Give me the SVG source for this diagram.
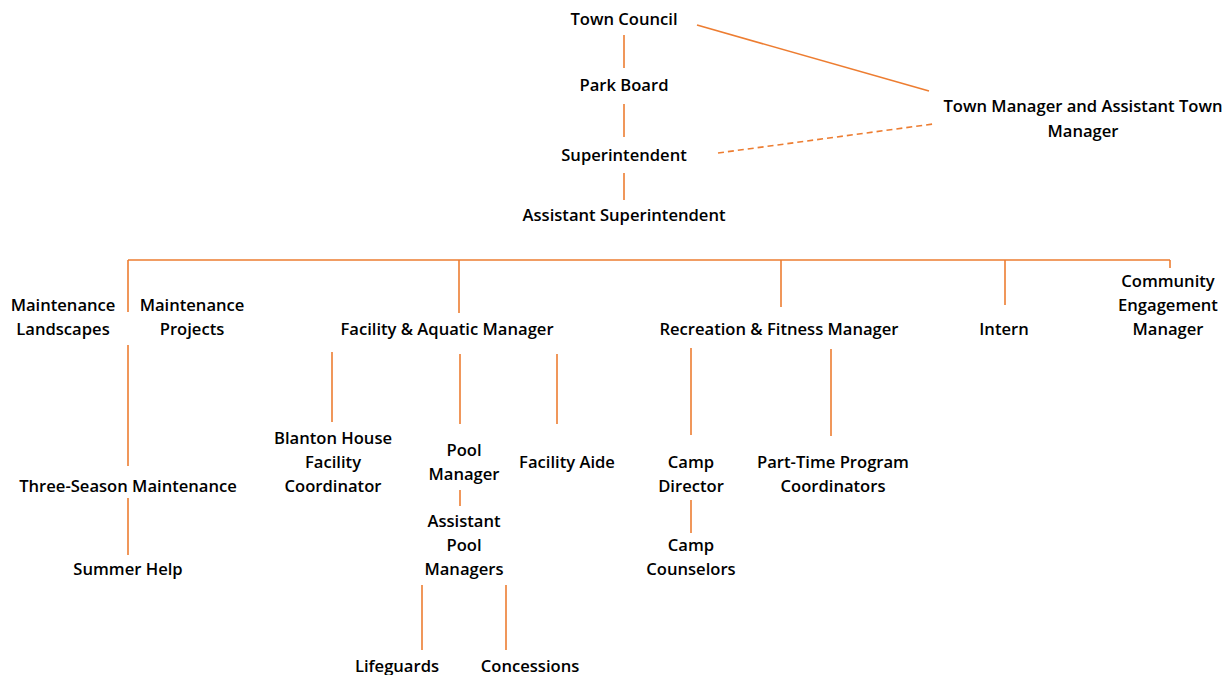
<svg xmlns="http://www.w3.org/2000/svg" width="1232" height="675" viewBox="0 0 1232 675">
<style>
text{font-family:"Open Sans","Noto Sans","Liberation Sans",sans-serif;font-size:16.6px;font-weight:600;fill:#000;text-anchor:middle}
.c line{stroke:#ED7D31;stroke-width:1.6;fill:none}
.c .d{stroke-dasharray:6 4}
</style>
<rect width="1232" height="675" fill="#fff"/>
<g id="connectors" class="c">
<line x1="624" y1="35" x2="624" y2="68"/>
<line x1="624" y1="104" x2="624" y2="137"/>
<line x1="624" y1="173" x2="624" y2="200"/>
<line x1="697" y1="25" x2="929" y2="91"/>
<line class="d" x1="718" y1="153" x2="933" y2="124"/>
<line x1="128" y1="260" x2="1170" y2="260"/>
<line x1="128" y1="260" x2="128" y2="312"/>
<line x1="128" y1="345" x2="128" y2="466"/>
<line x1="459" y1="260" x2="459" y2="313"/>
<line x1="781" y1="260" x2="781" y2="307"/>
<line x1="1005" y1="260" x2="1005" y2="305"/>
<line x1="1170" y1="260" x2="1170" y2="268"/>
<line x1="332" y1="352" x2="332" y2="422"/>
<line x1="460" y1="354" x2="460" y2="424"/>
<line x1="557" y1="354" x2="557" y2="424"/>
<line x1="460" y1="490" x2="460" y2="506"/>
<line x1="422" y1="585" x2="422" y2="650"/>
<line x1="506" y1="585" x2="506" y2="650"/>
<line x1="691" y1="348" x2="691" y2="435"/>
<line x1="831" y1="349" x2="831" y2="436"/>
<line x1="691" y1="500" x2="691" y2="533"/>
<line x1="128" y1="498" x2="128" y2="555"/>
</g>
<g id="town-council"><text x="624" y="25">Town Council</text></g>
<g id="park-board"><text x="624" y="91">Park Board</text></g>
<g id="superintendent"><text x="624" y="161">Superintendent</text></g>
<g id="assistant-superintendent"><text x="624" y="221">Assistant Superintendent</text></g>
<g id="town-manager"><text x="1083" y="112">Town Manager and Assistant Town</text><text x="1083" y="137">Manager</text></g>
<g id="maint-landscapes"><text x="63" y="311">Maintenance</text><text x="63" y="335">Landscapes</text></g>
<g id="maint-projects"><text x="192" y="311">Maintenance</text><text x="192" y="335">Projects</text></g>
<g id="facility-aquatic"><text x="447" y="335">Facility &amp; Aquatic Manager</text></g>
<g id="recreation-fitness"><text x="779" y="335">Recreation &amp; Fitness Manager</text></g>
<g id="intern"><text x="1004" y="335">Intern</text></g>
<g id="community-engagement"><text x="1168" y="287">Community</text><text x="1168" y="311">Engagement</text><text x="1168" y="335">Manager</text></g>
<g id="blanton"><text x="333" y="444">Blanton House</text><text x="333" y="468">Facility</text><text x="333" y="492">Coordinator</text></g>
<g id="pool-manager"><text x="464" y="456">Pool</text><text x="464" y="480">Manager</text></g>
<g id="facility-aide"><text x="567" y="468">Facility Aide</text></g>
<g id="assistant-pool"><text x="464" y="527">Assistant</text><text x="464" y="551">Pool</text><text x="464" y="575">Managers</text></g>
<g id="lifeguards"><text x="397" y="672">Lifeguards</text></g>
<g id="concessions"><text x="530" y="672">Concessions</text></g>
<g id="camp-director"><text x="691" y="468">Camp</text><text x="691" y="492">Director</text></g>
<g id="part-time"><text x="833" y="468">Part-Time Program</text><text x="833" y="492">Coordinators</text></g>
<g id="camp-counselors"><text x="691" y="551">Camp</text><text x="691" y="575">Counselors</text></g>
<g id="three-season"><text x="128" y="492">Three-Season Maintenance</text></g>
<g id="summer-help"><text x="128" y="575">Summer Help</text></g>
</svg>
